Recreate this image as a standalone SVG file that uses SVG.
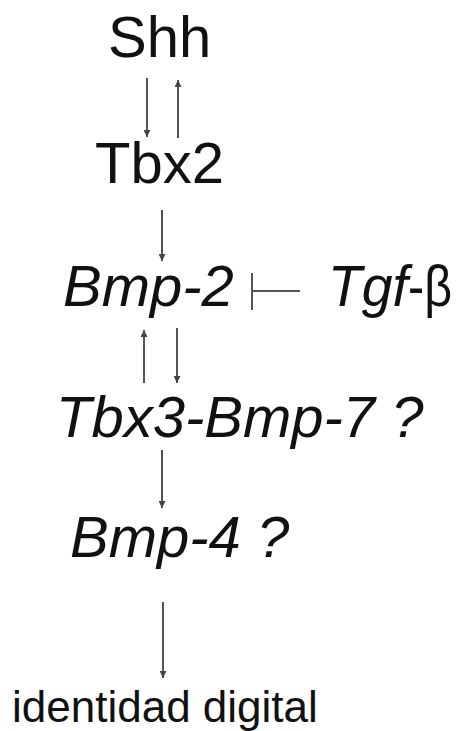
<svg xmlns="http://www.w3.org/2000/svg" width="460" height="731" viewBox="0 0 460 731">
<style>
.t{font-family:"Liberation Sans",Arial,sans-serif;font-size:58px;fill:#111}
.i{font-style:italic}
.c{stroke:#555;stroke-width:2;fill:none}
</style>
<defs>
<marker id="ah" viewBox="0 0 10 10" refX="10" refY="5" markerWidth="13" markerHeight="7" markerUnits="userSpaceOnUse" orient="auto">
<path d="M0,0 L10,5 L0,10 Z" fill="#444"/>
</marker>
</defs>
<rect width="460" height="731" fill="#fff"/>
<g id="shh"><text class="t" x="108" y="57">Shh</text></g>
<g id="tbx2"><text class="t" x="95" y="183">Tbx2</text></g>
<g id="bmp2"><text class="t i" x="63" y="306">Bmp-2</text></g>
<g id="tgfb"><text class="t i" x="328" y="306" textLength="80" lengthAdjust="spacingAndGlyphs">Tgf</text><text class="t" x="408" y="306" textLength="44" lengthAdjust="spacingAndGlyphs">-β</text></g>
<g id="tbx3bmp7"><text class="t i" x="56" y="437">Tbx3-Bmp-7 ?</text></g>
<g id="bmp4"><text class="t i" x="70" y="557">Bmp-4 ?</text></g>
<g id="identidad"><text class="t" x="12" y="722" style="font-size:44px">identidad digital</text></g>
<g id="connectors">
<line class="c" x1="147" y1="78" x2="147" y2="137" marker-end="url(#ah)"/>
<line class="c" x1="178" y1="138" x2="178" y2="80" marker-end="url(#ah)"/>
<line class="c" x1="162" y1="210" x2="162" y2="261" marker-end="url(#ah)"/>
<line class="c" x1="300" y1="291" x2="252" y2="291"/>
<line class="c" x1="252" y1="273" x2="252" y2="310"/>
<line class="c" x1="144" y1="383" x2="144" y2="330" marker-end="url(#ah)"/>
<line class="c" x1="177" y1="328" x2="177" y2="383" marker-end="url(#ah)"/>
<line class="c" x1="162" y1="450" x2="162" y2="508" marker-end="url(#ah)"/>
<line class="c" x1="163" y1="602" x2="163" y2="678" marker-end="url(#ah)"/>
</g>
</svg>
